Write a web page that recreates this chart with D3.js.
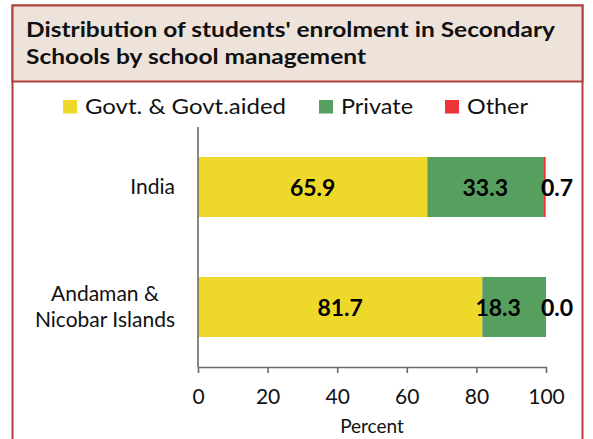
<!DOCTYPE html>
<html>
<head>
<meta charset="utf-8">
<script src="https://cdn.jsdelivr.net/npm/d3@7"></script>
<style>
  body { margin: 0; background: #fff; }
  svg { display: block; }
  text { font-family: Lato, "Open Sans", sans-serif; }
</style>
</head>
<body>
<div id="chart"></div>
<script>
// data
var titleLines = ["Distribution of students' enrolment in Secondary", "Schools by school management"];
var regions = ["India", "Andaman & Nicobar Islands"];
var regionLines = [["India"], ["Andaman &", "Nicobar Islands"]];
var seriesNames = ["Govt. & Govt.aided", "Private", "Other"];
var govtValues = [65.9, 81.7];
var privateValues = [33.3, 18.3];
var otherValues = [0.7, 0.0];
var xTicks = [0, 20, 40, 60, 80, 100];
var xTitle = "Percent";

var colors = ["#eed92b", "#569f5f", "#ee3338"];
var borderColor = "#b0403a";
var axisColor = "#6a6a6a";

var width = 593, height = 439;

var rows = regions.map(function(r, i) {
    var o = { region: r };
    o[seriesNames[0]] = govtValues[i];
    o[seriesNames[1]] = privateValues[i];
    o[seriesNames[2]] = otherValues[i];
    return o;
});

var svg = d3.select("#chart").append("svg")
    .attr("width", width)
    .attr("height", height);

// outer frame, open at the bottom of the picture
svg.append("rect")
    .attr("x", 12.5).attr("y", 5.5)
    .attr("width", 570).attr("height", 480)
    .attr("fill", "#fff")
    .attr("stroke", borderColor)
    .attr("stroke-width", 2);

svg.append("rect")
    .attr("x", 12.5).attr("y", 5.5)
    .attr("width", 570).attr("height", 76)
    .attr("fill", "#ede3da")
    .attr("stroke", borderColor)
    .attr("stroke-width", 2);

var titleWidths = [529, 340];
svg.selectAll(".title")
    .data(titleLines)
    .enter().append("text")
    .attr("class", "title")
    .attr("x", 26)
    .attr("y", function(d, i) { return 37 + i * 27; })
    .attr("textLength", function(d, i) { return titleWidths[i]; })
    .attr("lengthAdjust", "spacingAndGlyphs")
    .attr("font-size", 21)
    .attr("font-weight", "bold")
    .attr("fill", "#111")
    .text(function(d) { return d; });

// legend
var legendX = [63, 319, 445];
var legendW = [201, 72, 61];
var legend = svg.selectAll(".legend")
    .data(seriesNames)
    .enter().append("g")
    .attr("class", "legend")
    .attr("transform", function(d, i) { return "translate(" + legendX[i] + ",100)"; });
legend.append("rect")
    .attr("width", 14).attr("height", 13.5)
    .attr("fill", function(d, i) { return colors[i]; });
legend.append("text")
    .attr("x", 22).attr("y", 13.5)
    .attr("font-size", 22)
    .attr("textLength", function(d, i) { return legendW[i]; })
    .attr("lengthAdjust", "spacingAndGlyphs")
    .attr("fill", "#111")
    .text(function(d) { return d; });

var x = d3.scaleLinear().domain([0, 100]).range([198, 546]);
var y = d3.scaleBand().domain(regions).range([127, 367])
    .paddingInner(0.5).paddingOuter(0.25);

var stack = d3.stack().keys(seriesNames);
var layers = stack(rows);

var layer = svg.selectAll(".layer")
    .data(layers)
    .enter().append("g")
    .attr("class", "layer")
    .attr("fill", function(d, i) { return colors[i]; });

layer.selectAll("rect")
    .data(function(d) { return d; })
    .enter().append("rect")
    .attr("x", function(d) { return x(d[0]); })
    .attr("y", function(d) { return y(d.data.region); })
    .attr("width", function(d) { return x(d[1]) - x(d[0]); })
    .attr("height", y.bandwidth());

// value labels (the small "Other" ones sit past the bar end)
var nudge = { "Andaman & Nicobar Islands|Private": -16 };
layers.forEach(function(l, li) {
    svg.selectAll(".lab" + li)
        .data(l)
        .enter().append("text")
        .attr("class", "lab" + li)
        .attr("x", function(d) {
            var cx = li === 2 ? x(100) + 11 : (x(d[0]) + x(d[1])) / 2;
            return cx + (nudge[d.data.region + "|" + l.key] || 0);
        })
        .attr("y", function(d) { return y(d.data.region) + y.bandwidth() / 2 + 8.5; })
        .attr("text-anchor", "middle")
        .attr("font-size", 23)
        .attr("font-weight", "bold")
        .attr("fill", "#000")
        .text(function(d) { return (d[1] - d[0]).toFixed(1); });
});

// category labels: block right aligned, lines centred within it
regions.forEach(function(r, i) {
    var lines = regionLines[i];
    var g = svg.append("g");
    var t = g.selectAll("text")
        .data(lines)
        .enter().append("text")
        .attr("font-size", 21)
        .attr("fill", "#111")
        .attr("text-anchor", "middle")
        .attr("y", function(d, j) {
            return y(r) + y.bandwidth() / 2 + (j - (lines.length - 1) / 2) * 26.6 + 7;
        })
        .text(function(d) { return d; });
    var maxW = d3.max(t.nodes(), function(n) { return n.getComputedTextLength(); });
    t.attr("x", 175 - maxW / 2);
});

// axes
svg.append("line")
    .attr("x1", x(0)).attr("x2", x(0))
    .attr("y1", 127).attr("y2", 367)
    .attr("stroke", axisColor)
    .attr("stroke-width", 1.6);

var xAxis = svg.append("g")
    .attr("transform", "translate(0,367)")
    .call(d3.axisBottom(x).tickValues(xTicks).tickSize(6).tickSizeOuter(0).tickPadding(16));
xAxis.select(".domain").attr("stroke", axisColor).attr("stroke-width", 1.6);
xAxis.selectAll(".tick line").attr("stroke", axisColor).attr("stroke-width", 1.6);
xAxis.selectAll(".tick text")
    .attr("font-size", 21)
    .attr("font-family", "Lato, sans-serif")
    .attr("fill", "#111");

svg.append("text")
    .attr("x", x(50)).attr("y", 433)
    .attr("text-anchor", "middle")
    .attr("font-size", 19)
    .attr("fill", "#111")
    .text(xTitle);
</script>
</body>
</html>
